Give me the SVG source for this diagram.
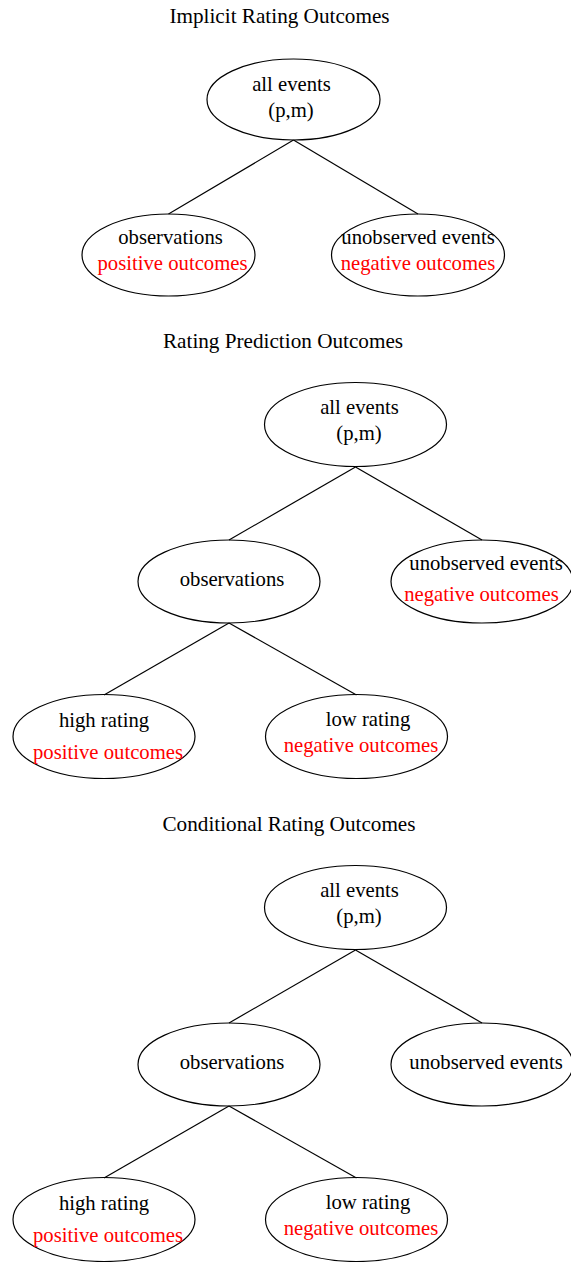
<svg xmlns="http://www.w3.org/2000/svg" width="571" height="1262" viewBox="0 0 571 1262">
<style>
text{font-family:"Liberation Serif","Times New Roman",serif;font-size:20.7px;text-anchor:middle;fill:#000}
.t{font-size:21.2px}
.r{fill:#ff0000}
ellipse{fill:none;stroke:#000;stroke-width:1.2}
.c line{stroke:#000;stroke-width:1.2}
</style>
<rect width="571" height="1262" fill="#fff"/>
<g id="titles">
<text class="t" x="279.5" y="23">Implicit Rating Outcomes</text>
<text class="t" x="283" y="348">Rating Prediction Outcomes</text>
<text class="t" x="289" y="831">Conditional Rating Outcomes</text>
</g>
<g class="c" id="connectors">
<line x1="293.5" y1="140" x2="168.5" y2="214"/>
<line x1="293.5" y1="140" x2="418" y2="214"/>
<line x1="355.5" y1="467" x2="229" y2="540"/>
<line x1="355.5" y1="467" x2="482" y2="540"/>
<line x1="229" y1="623" x2="104" y2="695"/>
<line x1="229" y1="623" x2="356.5" y2="695"/>
<line x1="355.5" y1="950" x2="229" y2="1023"/>
<line x1="355.5" y1="950" x2="482" y2="1023"/>
<line x1="229" y1="1106" x2="104" y2="1178"/>
<line x1="229" y1="1106" x2="356.5" y2="1178"/>
</g>
<g id="s1-all"><ellipse cx="293.5" cy="99.5" rx="86.5" ry="40.5"/><text x="291.5" y="91">all events</text><text x="291" y="117">(p,m)</text></g>
<g id="s1-obs"><ellipse cx="168.5" cy="255" rx="86.5" ry="41"/><text x="170.5" y="244">observations</text><text class="r" x="172.5" y="270">positive outcomes</text></g>
<g id="s1-unobs"><ellipse cx="418" cy="255" rx="86.5" ry="41"/><text x="418" y="244">unobserved events</text><text class="r" x="418" y="270">negative outcomes</text></g>

<g id="s2-all"><ellipse cx="355.5" cy="424.5" rx="91" ry="42"/><text x="359.5" y="414">all events</text><text x="359" y="440">(p,m)</text></g>
<g id="s2-obs"><ellipse cx="229" cy="581.5" rx="91" ry="41.5"/><text x="232" y="586">observations</text></g>
<g id="s2-unobs"><ellipse cx="482" cy="581.5" rx="91" ry="41.5"/><text x="486" y="570">unobserved events</text><text class="r" x="481.5" y="601">negative outcomes</text></g>
<g id="s2-high"><ellipse cx="104" cy="736.5" rx="91" ry="42"/><text x="104" y="727">high rating</text><text class="r" x="108" y="759">positive outcomes</text></g>
<g id="s2-low"><ellipse cx="356.5" cy="736.5" rx="91" ry="42"/><text x="368" y="726">low rating</text><text class="r" x="361" y="752">negative outcomes</text></g>

<g id="s3-all"><ellipse cx="355.5" cy="907.5" rx="91" ry="42"/><text x="359.5" y="897">all events</text><text x="359" y="923">(p,m)</text></g>
<g id="s3-obs"><ellipse cx="229" cy="1064.5" rx="91" ry="41.5"/><text x="232" y="1069">observations</text></g>
<g id="s3-unobs"><ellipse cx="482" cy="1064.5" rx="91" ry="41.5"/><text x="486" y="1069">unobserved events</text></g>
<g id="s3-high"><ellipse cx="104" cy="1219.5" rx="91" ry="42"/><text x="104" y="1210">high rating</text><text class="r" x="108" y="1242">positive outcomes</text></g>
<g id="s3-low"><ellipse cx="356.5" cy="1219.5" rx="91" ry="42"/><text x="368" y="1209">low rating</text><text class="r" x="361" y="1235">negative outcomes</text></g>
</svg>
